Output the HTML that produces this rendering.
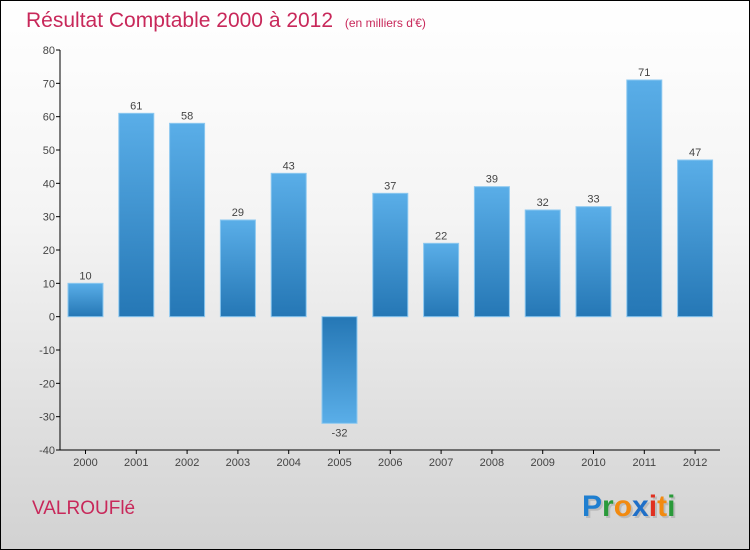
<!DOCTYPE html>
<html><head><meta charset="utf-8"><style>
html,body{margin:0;padding:0}
body{width:750px;height:550px;overflow:hidden;font-family:"Liberation Sans",sans-serif}
#wrap{position:relative;width:748px;height:548px;border:1px solid #000;background:linear-gradient(#ffffff 0%,#f4f4f4 40%,#d2d2d2 100%)}
</style></head><body>
<div id="wrap">
<svg width="748" height="548" viewBox="1 1 748 548" style="position:absolute;left:0;top:0">
<defs>
<linearGradient id="gp" x1="0" y1="0" x2="0" y2="1"><stop offset="0" stop-color="#5aaee8"/><stop offset="1" stop-color="#2577b5"/></linearGradient>
<linearGradient id="gn" x1="0" y1="0" x2="0" y2="1"><stop offset="0" stop-color="#2577b5"/><stop offset="1" stop-color="#5aaee8"/></linearGradient>
</defs>
<text x="26" y="27" font-size="21" fill="#c8285a">Résultat Comptable 2000 à 2012 <tspan font-size="12" dx="6">(en milliers d'€)</tspan></text>
<g id="axes"></g>
<g id="bars"></g>
<text x="32" y="514" font-size="19" fill="#c8285a">VALROUFlé</text>
<g font-size="30" font-weight="bold" font-family="'Liberation Sans',sans-serif">
<text x="584" y="518" fill="#bbb">Proxiti</text>
<text x="582" y="516"><tspan fill="#1f7fd0">P</tspan><tspan fill="#2a9a3a">r</tspan><tspan fill="#f28a10">o</tspan><tspan fill="#1f6fc8">x</tspan><tspan fill="#e03020">i</tspan><tspan fill="#f28a10">t</tspan><tspan fill="#2a9a3a">i</tspan></text>
</g>
</svg>
</div>
<script>
const categories=["2000","2001","2002","2003","2004","2005","2006","2007","2008","2009","2010","2011","2012"];
const values=[10,61,58,29,43,-32,37,22,39,32,33,71,47];
const yTicks=[80,70,60,50,40,30,20,10,0,-10,-20,-30,-40];
const NS="http://www.w3.org/2000/svg";
const yMin=-40,yMax=80,plotTop=50,plotBot=450,plotLeft=60,plotRight=720;
function yS(v){return plotBot-(v-yMin)/(yMax-yMin)*(plotBot-plotTop);}
function xS(i){return 85.5+i*50.8;}
function mk(t,a,p){const e=document.createElementNS(NS,t);for(const k in a)e.setAttribute(k,a[k]);p.appendChild(e);return e;}
const ax=document.getElementById('axes'),bg=document.getElementById('bars');
const yl=mk('line',{x1:plotLeft,y1:plotTop,x2:plotLeft,y2:plotBot,stroke:'#000'},ax);


const xl=mk('line',{x1:plotLeft,y1:plotBot,x2:plotRight,y2:plotBot,stroke:'#000'},ax);


yTicks.forEach(v=>{
 mk('line',{x1:plotLeft-4,y1:yS(v),x2:plotLeft,y2:yS(v),stroke:'#000'},ax);
 const t=mk('text',{x:plotLeft-5,y:yS(v)+4,'font-size':11,fill:'#444','text-anchor':'end'},ax);
 t.textContent=v;
 
 
});
categories.forEach((c,i)=>{
 mk('line',{x1:xS(i),y1:plotBot,x2:xS(i),y2:plotBot+4,stroke:'#000'},ax);
 const t=mk('text',{x:xS(i),y:plotBot+16,'font-size':11,fill:'#444','text-anchor':'middle'},ax);
 t.textContent=c;
 
 
 const v=values[i],y0=yS(0),yv=yS(v);
 const r=mk('rect',{x:xS(i)-17.5,y:Math.min(y0,yv),width:35,height:Math.abs(yv-y0),fill:v>=0?'url(#gp)':'url(#gn)',stroke:'#8cc8f0','stroke-width':1},bg);
 
 
 const l=mk('text',{x:xS(i),y:v>=0?yv-4:yv+13,'font-size':11,fill:'#444','text-anchor':'middle'},bg);
 l.textContent=v;
 
 
});
</script>
</body></html>
